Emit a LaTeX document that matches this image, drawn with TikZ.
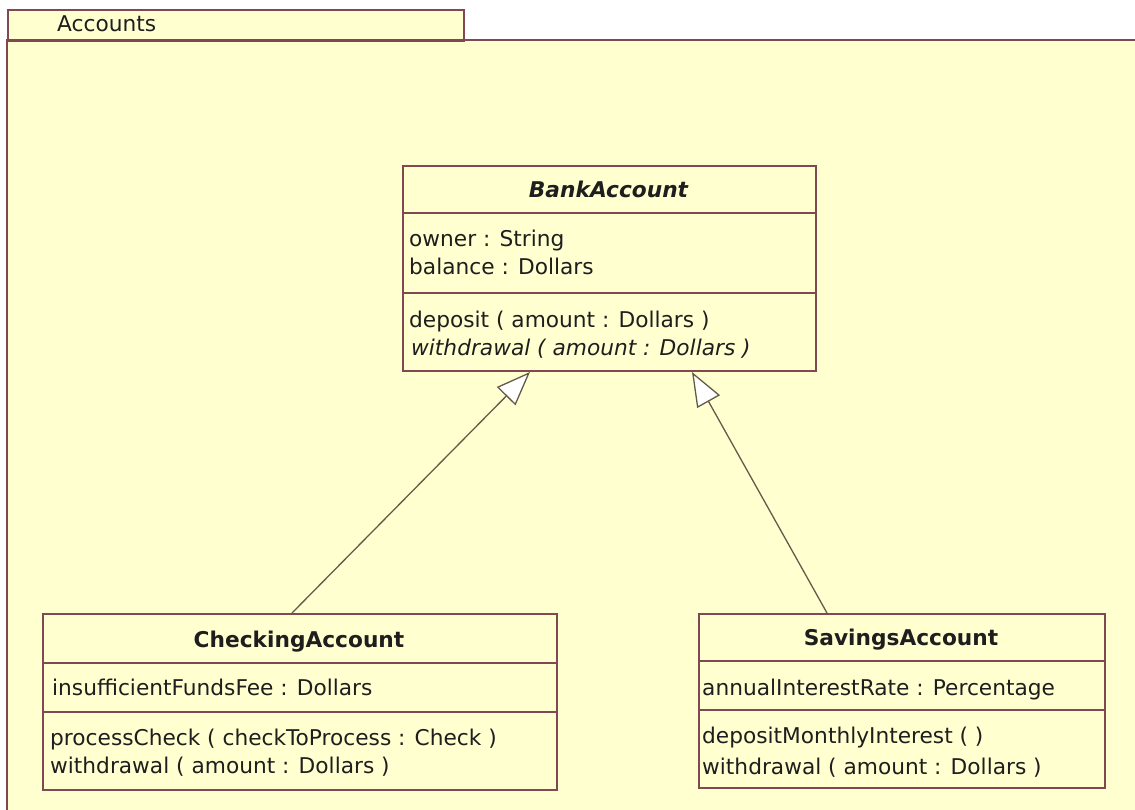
\documentclass[tikz,border=0pt]{standalone}
\usepackage{fontspec}
\setmainfont{DejaVu Sans}
\usetikzlibrary{arrows.meta}
\definecolor{pkgfill}{RGB}{255,255,208}
\definecolor{umlline}{RGB}{128,72,80}
\definecolor{genline}{RGB}{100,90,75}
\definecolor{txt}{RGB}{30,30,30}
\begin{document}
\begin{tikzpicture}[x=1pt,y=-1pt,
  every node/.style={font=\fontsize{21.7}{26}\selectfont, inner sep=0pt, text=txt},
  classbox/.style={draw=umlline, line width=2pt, fill=pkgfill, anchor=north west},
  divider/.style={draw=umlline, line width=2pt},
  member/.style={anchor=base west},
  classname/.style={anchor=base, font=\fontsize{21.7}{26}\selectfont\bfseries},
  gen/.style={draw=genline, line width=1.3pt, -{Triangle[length=34pt,width=26pt,fill=white]}}
]
\useasboundingbox (0,0) rectangle (1135,810);
\fill[white] (0,0) rectangle (1135,810);
% package
\fill[pkgfill] (7,40) rectangle (1140,815);
\node (tab) [draw=umlline, line width=2pt, fill=pkgfill, minimum width=456pt, minimum height=31pt, anchor=north west] at (7,9) {};
\node (tabtext) [anchor=base west] at (57,32) {Accounts};
\draw[umlline, line width=2pt] (7,815) -- (7,40) -- (1140,40);

% BankAccount
\node (bank) [classbox, minimum width=413pt, minimum height=205pt] at (402,165) {};
\draw[divider] (bank.west |- 0,213) -- (bank.east |- 0,213);
\draw[divider] (bank.west |- 0,293) -- (bank.east |- 0,293);
\node (bankname) [classname, font=\fontsize{21.7}{26}\selectfont\bfseries\itshape] at (608.5,198) {BankAccount};
\node (bowner) [member] at (409,247) {owner : String};
\node (bbal) [member] at (409,275) {balance : Dollars};
\node (bdep) [member] at (409,327) {deposit ( amount : Dollars )};
\node (bwd) [member, font=\fontsize{21.7}{26}\selectfont\itshape] at (411,355) {withdrawal ( amount : Dollars )};

% CheckingAccount
\node (check) [classbox, minimum width=514pt, minimum height=176pt] at (42,613) {};
\draw[divider] (check.west |- 0,663) -- (check.east |- 0,663);
\draw[divider] (check.west |- 0,712) -- (check.east |- 0,712);
\node (checkname) [classname] at (299,647) {CheckingAccount};
\node (cfee) [member] at (52,695) {insufficientFundsFee : Dollars};
\node (cproc) [member] at (50,745) {processCheck ( checkToProcess : Check )};
\node (cwd) [member] at (50,773) {withdrawal ( amount : Dollars )};

% SavingsAccount
\node (save) [classbox, minimum width=406pt, minimum height=174pt] at (698,613) {};
\draw[divider] (save.west |- 0,661) -- (save.east |- 0,661);
\draw[divider] (save.west |- 0,710) -- (save.east |- 0,710);
\node (savename) [classname] at (901,645) {SavingsAccount};
\node (srate) [member] at (702,695) {annualInterestRate : Percentage};
\node (sdep) [member] at (702,743) {depositMonthlyInterest ( )};
\node (swd) [member] at (702,774) {withdrawal ( amount : Dollars )};

% generalizations
\draw[gen] ([xshift=250pt]check.north west) -- ([xshift=128pt]bank.south west);
\draw[gen] ([xshift=129pt]save.north west) -- ([xshift=290pt]bank.south west);
\end{tikzpicture}
\end{document}
